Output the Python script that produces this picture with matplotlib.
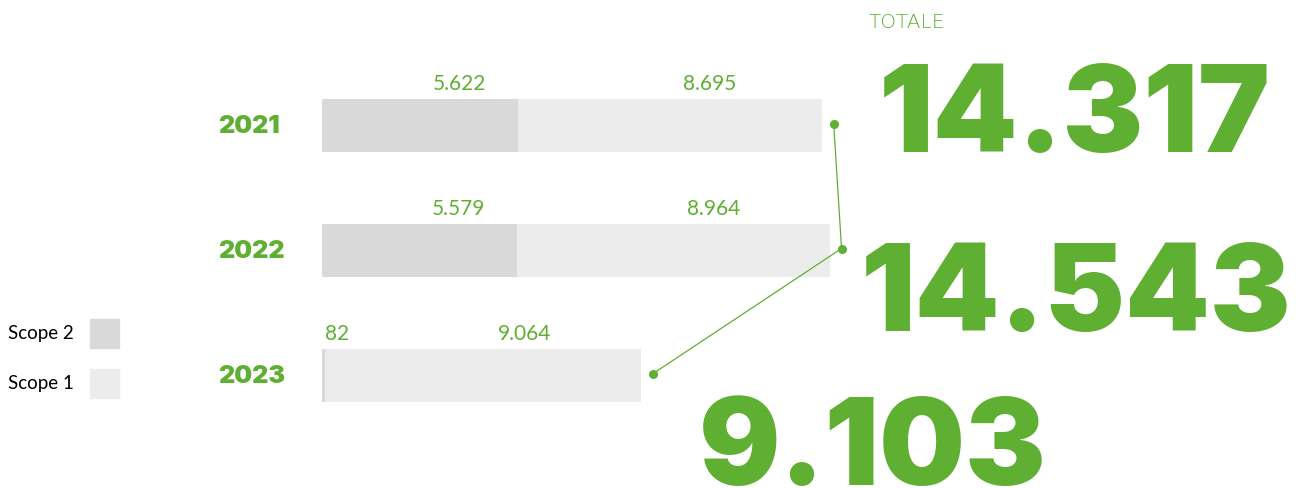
import matplotlib.pyplot as plt
from matplotlib.patches import Patch

# emissions per year (tCO2e)
years = ['2021', '2022', '2023']
scope2 = [5622, 5579, 82]
scope1 = [8695, 8964, 9064]
scope2_labels = ['5.622', '5.579', '82']
scope1_labels = ['8.695', '8.964', '9.064']
total_labels = ['14.317', '14.543', '9.103']

GREEN = '#5faf32'
GREY2 = '#d9d9d9'
GREY1 = '#ececec'

W, H = 1301, 488
PX = 0.0349      # pixels per tonne
X0 = 322         # pixel where the bars start
ROW0, ROW_STEP = 125.5, 125.0


def px_to_x(px):
    return (px - X0) / PX


fig = plt.figure(figsize=(W / 100, H / 100), dpi=100)
ax = fig.add_axes([0, 0, 1, 1])
ax.set_xlim(px_to_x(0), px_to_x(W))
ax.set_ylim((H - ROW0) / ROW_STEP, -ROW0 / ROW_STEP)
ax.axis('off')

rows = list(range(len(years)))
bar_h = 53 / ROW_STEP
ax.barh(rows, scope2, height=bar_h, color=GREY2, label='Scope 2')
ax.barh(rows, scope1, left=scope2, height=bar_h, color=GREY1, label='Scope 1')

# values above each segment
val_font = dict(color=GREEN, fontsize=15, family='Lato', va='baseline')
label_y = [r - bar_h / 2 - 9 / ROW_STEP for r in rows]
for s2, s1, l2, l1, ly in zip(scope2, scope1, scope2_labels, scope1_labels, label_y):
    if s2 * PX > 40:
        ax.text(s2 * 0.70, ly, l2, ha='center', **val_font)
    else:
        ax.text(px_to_x(X0 + 3), ly, l2, ha='left', **val_font)
    ax.text(s2 + s1 * 0.63, ly, l1, ha='center', **val_font)

# year labels
for r, y in zip(rows, years):
    ax.text(px_to_x(218), r + 1 / ROW_STEP, y, ha='left', va='center', color=GREEN,
            fontsize=18, family='Inter', weight='black')

# connector between bar ends
totals = [a + b for a, b in zip(scope2, scope1)]
dot_x = [t + 12 / PX for t in totals]
dot_y = [r - 2 / ROW_STEP for r in rows]
ax.plot(dot_x, dot_y, color=GREEN, lw=0.9, marker='o', ms=5.5, mec=GREEN, mfc=GREEN)

# totals
fig.text(869 / W, 1 - 28 / H, 'TOTALE', color=GREEN, fontsize=14.5,
         family='DejaVu Sans', weight='light', ha='left', va='baseline')
total_pos = [(1075, 152), (1076, 331), (873, 485)]
for (tx, ty), t in zip(total_pos, total_labels):
    fig.text(tx / W, 1 - ty / H, t, color=GREEN, fontsize=87, family='Inter',
             weight='black', ha='center', va='baseline')

# legend, text before swatch
fig.legend(handles=[Patch(color=GREY2), Patch(color=GREY1)],
           labels=['Scope 2', 'Scope 1'], markerfirst=False, frameon=False,
           loc='upper left', bbox_to_anchor=(8 / W, 1 - 319 / H),
           prop={'family': 'Lato', 'size': 13.5}, handlelength=1.55,
           handleheight=2.0, handletextpad=0.85, labelspacing=1.12,
           borderpad=0, borderaxespad=0)

fig.savefig('out.png', dpi=100)
